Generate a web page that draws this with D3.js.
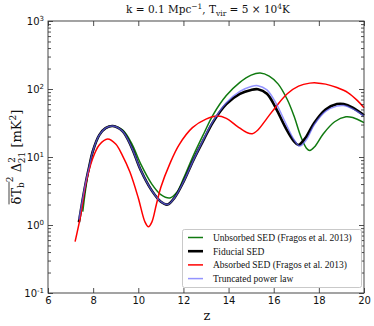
<!DOCTYPE html>
<html>
<head>
<meta charset="utf-8">
<script src="https://cdn.jsdelivr.net/npm/d3@7"></script>
<style>
  body { margin: 0; background: #fff; }
  svg { display: block; }
</style>
</head>
<body>
<svg id="chart" width="374" height="326"></svg>
<script>
// values: [z, dTb^2 Delta^2_21 in mK^2]
const unabsorbed = [[7.54,1.57],[7.68,3.6],[7.83,7.3],[7.98,12],[8.27,21],[8.55,26.5],[8.9,28.5],[9.3,25],
  [9.7,16],[10.1,8],[10.6,4.0],[11.0,2.8],[11.4,2.5],[11.7,3.0],[12.0,4.8],[12.44,10.5],[12.9,22],
  [13.32,42],[13.9,80],[14.5,125],[15.0,160],[15.4,172],[15.8,155],[16.2,118],[16.6,70],[16.9,40],
  [17.2,20],[17.45,13.5],[17.6,12.5],[17.8,14],[18.2,22],[18.7,33],[19.2,39],[19.5,38],[20,32]];
const fiducial = [[7.37,1.1],[7.52,2.2],[7.68,4.3],[7.83,7.3],[7.98,12],[8.27,21],[8.55,26.5],[8.87,28.6],
  [9.3,24],[9.7,14],[10.1,6.5],[10.6,3.2],[11.0,2.2],[11.3,2.0],[11.6,2.5],[12.0,4.3],[12.44,9],[12.9,18],
  [13.32,33],[13.9,60],[14.5,85],[15.0,97],[15.3,99],[15.7,85],[16.1,52],[16.5,28],[16.9,17],[17.1,15],
  [17.4,19],[17.8,32],[18.3,50],[18.8,60],[19.1,60],[19.5,53],[20,41]];
const absorbed = [[7.2,0.57],[7.45,1.4],[7.68,4.1],[7.98,9.5],[8.27,15],[8.64,18.4],[9.0,15.5],[9.3,10.5],
  [9.63,6.0],[10.0,2.5],[10.3,1.1],[10.45,0.94],[10.6,1.1],[10.8,2.0],[11.0,3.6],[11.4,8],[11.8,15],
  [12.4,27],[13.0,36],[13.5,40],[13.9,37],[14.4,28],[14.8,23],[15.05,22],[15.3,25],[15.7,37],[16.1,55],
  [16.6,85],[17.1,110],[17.6,122],[17.9,123],[18.3,118],[18.8,105],[19.3,88],[19.7,68],[20,53]];
const truncated = [[7.37,1.2],[7.52,2.3],[7.68,4.4],[7.83,7.3],[7.98,12],[8.27,21],[8.55,26.5],[8.87,28.6],
  [9.3,24],[9.7,14],[10.1,6.5],[10.6,3.2],[11.0,2.2],[11.3,2.0],[11.6,2.5],[12.0,4.3],[12.44,9],[12.9,18.5],
  [13.32,34],[13.9,63],[14.5,92],[15.0,109],[15.3,112],[15.7,97],[16.1,62],[16.5,33],[16.9,18],[17.15,14.5],
  [17.45,18],[17.8,30],[18.3,47],[18.8,56],[19.1,57],[19.5,51],[20,40]];

const xTicks = [6, 8, 10, 12, 14, 16, 18, 20];
const yDecades = [0.1, 1, 10, 100, 1000];

const series = [
  {name: "Unbsorbed SED (Fragos et al. 2013)", data: unabsorbed, color: "#107a10", width: 1.5, opacity: 1},
  {name: "Fiducial SED", data: fiducial, color: "#000", width: 2.6, opacity: 1},
  {name: "Absorbed SED (Fragos et al. 2013)", data: absorbed, color: "#ff0000", width: 1.5, opacity: 1},
  {name: "Truncated power law", data: truncated, color: "#6666ff", width: 1.5, opacity: 0.7}
];

const svg = d3.select("#chart");
const plotL = 48, plotR = 364, plotT = 21, plotB = 293;

const x = d3.scaleLinear().domain([6, 20]).range([plotL, plotR]);
const y = d3.scaleLog().domain([0.1, 1000]).range([plotB, plotT]);

const minorY = [];
yDecades.slice(0, -1).forEach(d => { for (let k = 2; k < 10; k++) minorY.push(d * k); });

// curves
const line = d3.line()
  .x(d => x(d[0]))
  .y(d => y(d[1]))
  .curve(d3.curveCatmullRom.alpha(0.5));

svg.append("g").selectAll("path")
  .data(series)
  .enter()
  .append("path")
  .attr("d", d => line(d.data))
  .attr("fill", "none")
  .attr("stroke", d => d.color)
  .attr("stroke-width", d => d.width)
  .attr("stroke-opacity", d => d.opacity)
  .attr("stroke-linejoin", "round");

// axes, ticks inward on all four sides
const tickFont = "'DejaVu Sans', sans-serif";

const xb = svg.append("g").attr("transform", "translate(0," + plotB + ")")
  .call(d3.axisBottom(x).tickValues(xTicks).tickSize(-5).tickPadding(4).tickFormat(d3.format("d")));
svg.append("g").attr("transform", "translate(0," + plotT + ")")
  .call(d3.axisTop(x).tickValues(xTicks).tickSize(-5).tickFormat(""));

const yl = svg.append("g").attr("transform", "translate(" + plotL + ",0)")
  .call(d3.axisLeft(y).tickValues(yDecades).tickSize(-5).tickPadding(4).tickFormat(""));
svg.append("g").attr("transform", "translate(" + plotL + ",0)")
  .call(d3.axisLeft(y).tickValues(minorY).tickSize(-3).tickFormat(""));
svg.append("g").attr("transform", "translate(" + plotR + ",0)")
  .call(d3.axisRight(y).tickValues(yDecades).tickSize(-5).tickFormat(""));
svg.append("g").attr("transform", "translate(" + plotR + ",0)")
  .call(d3.axisRight(y).tickValues(minorY).tickSize(-3).tickFormat(""));

svg.selectAll(".domain").remove();
svg.selectAll(".tick line").attr("stroke", "#222").attr("stroke-width", 0.8);

xb.selectAll("text").attr("font-family", tickFont).attr("font-size", 10).attr("fill", "#111");

yl.selectAll(".tick").append("text")
  .attr("x", -4)
  .attr("dy", "0.32em")
  .attr("text-anchor", "end")
  .attr("font-family", tickFont)
  .attr("fill", "#111")
  .each(function(d) {
    const t = d3.select(this);
    t.append("tspan").attr("font-size", 10).text("10");
    t.append("tspan").attr("font-size", 7).attr("dy", "-0.6em").text(Math.round(Math.log10(d)));
  });

svg.append("rect")
  .attr("x", plotL).attr("y", plotT)
  .attr("width", plotR - plotL).attr("height", plotB - plotT)
  .attr("fill", "none").attr("stroke", "#333").attr("stroke-width", 0.9);

// title
const serif = "'DejaVu Serif', serif";
const title = svg.append("text")
  .attr("x", 208).attr("y", 13)
  .attr("text-anchor", "middle")
  .attr("font-family", serif).attr("font-size", 10.5).attr("fill", "#111");
title.append("tspan").text("k = 0.1 Mpc");
title.append("tspan").attr("font-size", 7.5).attr("dy", -4).text("−1");
title.append("tspan").attr("dy", 4).text(", T");
title.append("tspan").attr("font-size", 7.5).attr("dy", 2.5).text("vir");
title.append("tspan").attr("dy", -2.5).text(" = 5 × 10");
title.append("tspan").attr("font-size", 7.5).attr("dy", -4).text("4");
title.append("tspan").attr("dy", 4).text("K");

// axis labels
svg.append("text")
  .attr("x", 207).attr("y", 320)
  .attr("text-anchor", "middle")
  .attr("font-family", serif).attr("font-size", 13).attr("fill", "#111")
  .text("z");

const ylabG = svg.append("g").attr("transform", "translate(21,157) rotate(-90)");
const ylab = ylabG.append("text")
  .attr("text-anchor", "middle")
  .attr("font-family", serif).attr("font-size", 13).attr("fill", "#111");
ylab.append("tspan").text("δT");
ylab.append("tspan").attr("font-size", 9).attr("dy", 3).text("b");
ylab.append("tspan").attr("font-size", 9).attr("dy", -11).text("2");
ylab.append("tspan").attr("dy", 8).text(" Δ");
ylab.append("tspan").attr("font-size", 9).attr("dy", -6).text("2");
ylab.append("tspan").attr("font-size", 9).attr("dx", -6).attr("dy", 10).text("21");
ylab.append("tspan").attr("dy", -4).text(" [mK");
ylab.append("tspan").attr("font-size", 9).attr("dy", -5).text("2");
ylab.append("tspan").attr("dy", 5).text("]");

// overline over delta T_b
const node = ylab.node();
const ox0 = node.getStartPositionOfChar(0).x;
const ox1 = node.getEndPositionOfChar(2).x;
ylabG.append("line")
  .attr("x1", ox0).attr("x2", ox1 + 0.5)
  .attr("y1", -12).attr("y2", -12)
  .attr("stroke", "#111").attr("stroke-width", 0.8);

// legend
const legend = svg.append("g");
legend.append("rect")
  .attr("x", 182.5).attr("y", 229.5).attr("width", 179).attr("height", 58)
  .attr("rx", 2)
  .attr("fill", "#fff").attr("stroke", "#bbb").attr("stroke-width", 0.8);

const rows = legend.selectAll("g.row")
  .data(series)
  .enter()
  .append("g")
  .attr("class", "row")
  .attr("transform", (d, i) => "translate(0," + (237.5 + i * 13.7) + ")");
rows.append("line")
  .attr("x1", 188).attr("x2", 203)
  .attr("stroke", d => d.color)
  .attr("stroke-width", d => d.width)
  .attr("stroke-opacity", d => d.opacity);
rows.append("text")
  .attr("x", 213).attr("dy", "0.35em")
  .attr("font-family", "'Liberation Serif', serif").attr("font-size", 9.5).attr("fill", "#111")
  .text(d => d.name);
</script>
</body>
</html>
